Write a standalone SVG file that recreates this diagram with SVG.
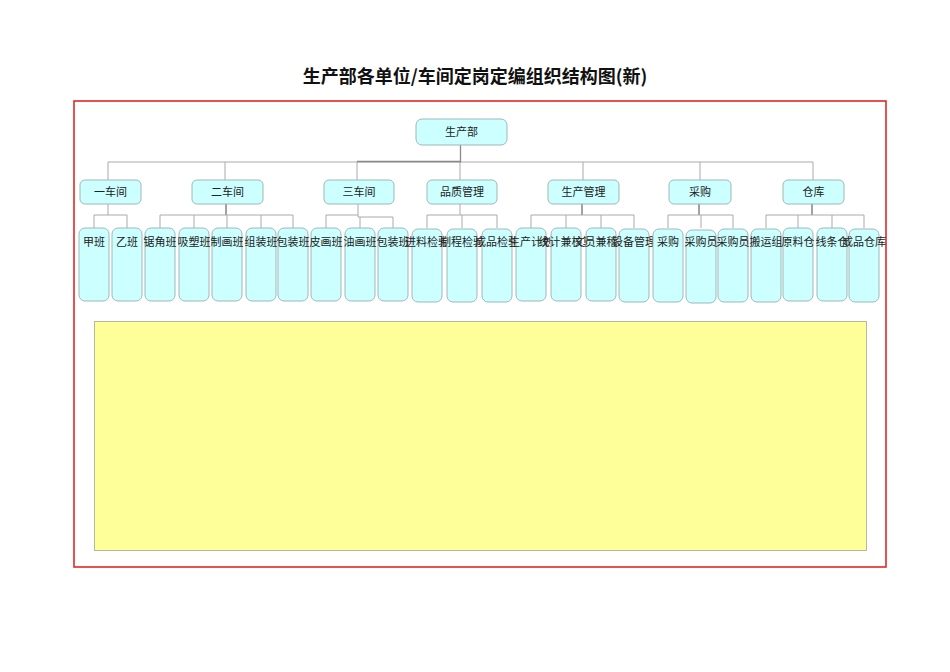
<svg xmlns="http://www.w3.org/2000/svg" width="950" height="672" viewBox="0 0 950 672">
<style>
.t{font-family:"Noto Sans CJK SC","Noto Sans",sans-serif;font-size:11px;fill:#222;text-anchor:middle}
.title{font-family:"Noto Sans CJK SC","Noto Sans",sans-serif;font-size:18px;font-weight:bold;fill:#111;text-anchor:middle}
.n{fill:#ccffff;stroke:#9fb8b8;stroke-width:1}
.c{fill:none;stroke:#aaaaaa;stroke-width:1}
.cd{fill:none;stroke:#444;stroke-width:1}
</style>
<rect width="950" height="672" fill="#fff"/>
<text class="title" x="475" y="83">生产部各单位/车间定岗定编组织结构图(新)</text>
<rect x="74" y="101" width="812" height="466" fill="none" stroke="#e02828" stroke-width="1.6"/>
<rect id="note" x="94.5" y="321.5" width="772" height="229" fill="#ffff99" stroke="#b8b8a0" stroke-width="1"/>
<g id="connectors">
<path class="c" d="M108 180V162H813V180M225 162V180M357 162V180M583 162V180M700 162V180M460 162V180"/>
<path fill="none" stroke="#888" stroke-width="1.3" d="M460.5 145V162.5M357 161.5H460.5"/>
<path class="c" d="M108 204V215M94 228V215H127V228"/>
<path class="cd" d="M226 204V215"/>
<path class="c" d="M160 228V215H293V228M194 215V228M227 215V228M261 215V228"/>
<path class="c" d="M358 204V215M326 228V215H358V217H393V228M360 217V228"/>
<path class="c" d="M460 204V215M427 228V215H497V228M462 215V228"/>
<path class="cd" d="M582 204V215"/>
<path class="c" d="M531 228V215H634V228M566 215V228M601 215V228"/>
<path class="cd" d="M699 204V215"/>
<path class="c" d="M668 228V215H733V228M701 215V228"/>
<path class="cd" d="M812 204V215"/>
<path class="c" d="M766 228V215H864V228M798 215V228M832 215V228"/>
</g>
<g id="n-root"><rect class="n" x="416" y="119" width="91" height="26" rx="6"/><text class="t" x="461.5" y="136">生产部</text></g>
<g id="n-c1"><rect class="n" x="80" y="180" width="61" height="24" rx="5"/><text class="t" x="110.5" y="196">一车间</text></g>
<g id="n-c2"><rect class="n" x="192" y="180" width="71" height="24" rx="5"/><text class="t" x="227.5" y="196">二车间</text></g>
<g id="n-c3"><rect class="n" x="324" y="180" width="70" height="24" rx="5"/><text class="t" x="359" y="196">三车间</text></g>
<g id="n-qa"><rect class="n" x="427" y="180" width="70" height="24" rx="5"/><text class="t" x="462" y="196">品质管理</text></g>
<g id="n-pm"><rect class="n" x="548" y="180" width="71" height="24" rx="5"/><text class="t" x="583.5" y="196">生产管理</text></g>
<g id="n-pur"><rect class="n" x="669" y="180" width="62" height="24" rx="5"/><text class="t" x="700" y="196">采购</text></g>
<g id="n-wh"><rect class="n" x="783" y="180" width="61" height="24" rx="5"/><text class="t" x="813.5" y="196">仓库</text></g>
<g id="l1"><rect class="n" x="79" y="228" width="30" height="73" rx="6"/><text class="t" x="94" y="246">甲班</text></g>
<g id="l2"><rect class="n" x="112" y="228" width="30" height="73" rx="6"/><text class="t" x="127" y="246">乙班</text></g>
<g id="l3"><rect class="n" x="145" y="228" width="30" height="73" rx="6"/><text class="t" x="160" y="246">锯角班</text></g>
<g id="l4"><rect class="n" x="179" y="228" width="30" height="73" rx="6"/><text class="t" x="194" y="246">吸塑班</text></g>
<g id="l5"><rect class="n" x="212" y="228" width="30" height="73" rx="6"/><text class="t" x="227" y="246">制画班</text></g>
<g id="l6"><rect class="n" x="246" y="228" width="30" height="73" rx="6"/><text class="t" x="261" y="246">组装班</text></g>
<g id="l7"><rect class="n" x="278" y="228" width="30" height="73" rx="6"/><text class="t" x="293" y="246">包装班</text></g>
<g id="l8"><rect class="n" x="311" y="228" width="30" height="73" rx="6"/><text class="t" x="326" y="246">皮画班</text></g>
<g id="l9"><rect class="n" x="345" y="228" width="30" height="73" rx="6"/><text class="t" x="360" y="246">油画班</text></g>
<g id="l10"><rect class="n" x="378" y="228" width="30" height="73" rx="6"/><text class="t" x="393" y="246">包装班</text></g>
<g id="l11"><rect class="n" x="412" y="229" width="30" height="73" rx="6"/><text class="t" x="427" y="246">进料检验</text></g>
<g id="l12"><rect class="n" x="447" y="229" width="30" height="73" rx="6"/><text class="t" x="462" y="246">制程检验</text></g>
<g id="l13"><rect class="n" x="482" y="229" width="30" height="73" rx="6"/><text class="t" x="497" y="246">成品检验</text></g>
<g id="l14"><rect class="n" x="516" y="228" width="30" height="73" rx="6"/><text class="t" x="531" y="246">生产计划</text></g>
<g id="l15"><rect class="n" x="551" y="228" width="30" height="73" rx="6"/><text class="t" x="566" y="246">统计兼核算</text></g>
<g id="l16"><rect class="n" x="586" y="228" width="30" height="73" rx="6"/><text class="t" x="601" y="246">文员兼稽核</text></g>
<g id="l17"><rect class="n" x="619" y="229" width="30" height="73" rx="6"/><text class="t" x="634" y="246">设备管理</text></g>
<g id="l18"><rect class="n" x="653" y="229" width="30" height="73" rx="6"/><text class="t" x="668" y="246">采购</text></g>
<g id="l19"><rect class="n" x="686" y="230" width="30" height="73" rx="6"/><text class="t" x="701" y="246">采购员</text></g>
<g id="l20"><rect class="n" x="718" y="229" width="30" height="73" rx="6"/><text class="t" x="733" y="246">采购员</text></g>
<g id="l21"><rect class="n" x="751" y="229" width="30" height="73" rx="6"/><text class="t" x="766" y="246">搬运组</text></g>
<g id="l22"><rect class="n" x="783" y="228" width="30" height="73" rx="6"/><text class="t" x="798" y="246">原料仓</text></g>
<g id="l23"><rect class="n" x="817" y="228" width="30" height="73" rx="6"/><text class="t" x="832" y="246">线条仓</text></g>
<g id="l24"><rect class="n" x="849" y="229" width="30" height="73" rx="6"/><text class="t" x="864" y="246">成品仓库</text></g>
</svg>
